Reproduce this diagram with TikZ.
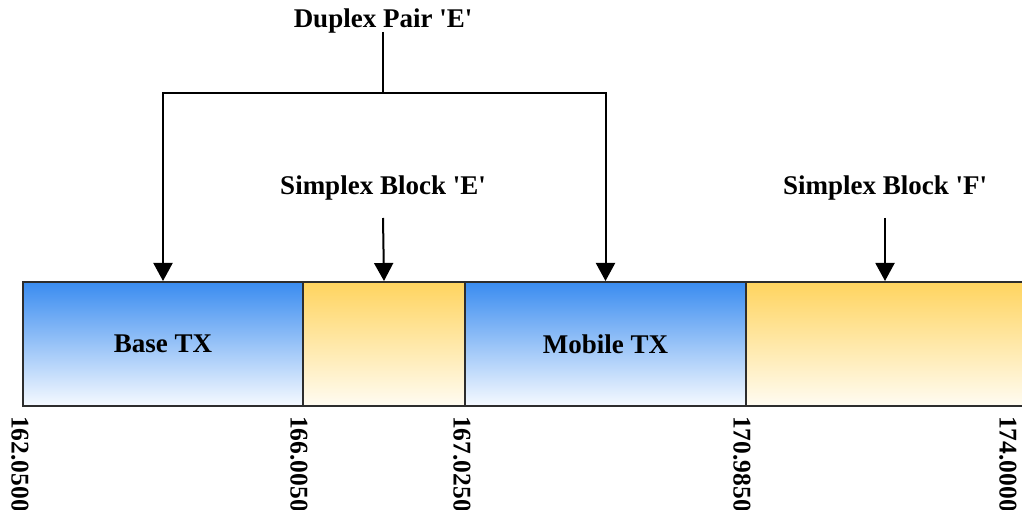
\documentclass[tikz,border=0pt]{standalone}
\usepackage{fontspec}
\setmainfont{Liberation Serif}
\usetikzlibrary{arrows.meta}
\definecolor{bluetop}{RGB}{58,140,240}
\definecolor{bluemid}{RGB}{118,178,246}
\definecolor{bluebot}{RGB}{246,250,255}
\definecolor{yeltop}{RGB}{255,212,95}
\definecolor{yelmid}{RGB}{255,230,160}
\definecolor{yelbot}{RGB}{255,252,242}
\definecolor{edge}{RGB}{45,45,45}
\tikzset{
  seg/.style={draw=edge, line width=2pt, anchor=north west, minimum height=124pt,
    inner sep=0pt, font=\fontsize{27}{32}\selectfont\bfseries},
  bluebox/.style={seg, top color=bluetop, middle color=bluemid, bottom color=bluebot},
  yelbox/.style={seg, top color=yeltop, middle color=yelmid, bottom color=yelbot},
  title/.style={font=\fontsize{27}{32}\selectfont\bfseries, inner sep=0pt, anchor=base},
  num/.style={font=\fontsize{25.5}{29}\selectfont\bfseries, inner sep=0pt, rotate=-90, anchor=west},
  conn/.style={line width=2pt, black},
  arr/.style={conn, -{Triangle[width=19pt,length=18pt]}}
}
\begin{document}
\begin{tikzpicture}[x=1pt,y=-1pt]
\useasboundingbox (0,0) rectangle (1022,510);
% bar segments
\node[bluebox, minimum width=280pt] (base) at (22,281) {Base TX};
\node[yelbox, minimum width=162pt] (ye) at (302,281) {};
\node[bluebox, minimum width=281pt] (mob) at (464,281) {Mobile TX};
\node[yelbox, minimum width=280pt] (yf) at (745,281) {};
% titles
\node[title] (dup) at (383,28) {Duplex Pair \textquotesingle E\textquotesingle};
\node[title] (se) at (383,195) {Simplex Block \textquotesingle E\textquotesingle};
\node[title] (sf) at (885,195) {Simplex Block \textquotesingle F\textquotesingle};
\coordinate (j) at (383,93);
\coordinate (seS) at (383,218);
\coordinate (sfS) at (885,218);
% connectors
\draw[conn] ([yshift=-4pt]dup.base) -- (j);
\draw[arr] (j) -| (base.north);
\draw[arr] (j) -| (mob.north);
\draw[arr] (seS) -- (ye.north);
\draw[arr] (sfS) -- (yf.north -| sfS);
% frequency labels
\node[num] (f1) at (20,416) {162.0500};
\node[num] (f2) at (299,416) {166.0050};
\node[num] (f3) at (462,416) {167.0250};
\node[num] (f4) at (742,416) {170.9850};
\node[num] (f5) at (1008,416) {174.0000};
\end{tikzpicture}
\end{document}
